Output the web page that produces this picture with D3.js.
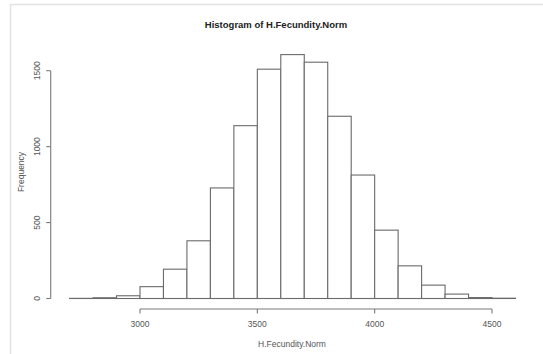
<!DOCTYPE html>
<html>
<head>
<meta charset="utf-8">
<script src="https://cdn.jsdelivr.net/npm/d3@7"></script>
<style>
	body { margin: 0; background: #fff; }
	svg { display: block; font-family: 'Liberation Sans', Arial, sans-serif; }
</style>
</head>
<body>
<div id="chart"></div>
<script>
// Histogram of H.Fecundity.Norm, R base-graphics look

const binStarts = [2700, 2800, 2900, 3000, 3100, 3200, 3300, 3400, 3500, 3600,
	3700, 3800, 3900, 4000, 4100, 4200, 4300, 4400, 4500];
const binWidth = 100;
const counts = [1, 5, 18, 78, 193, 380, 728, 1138, 1510, 1606,
	1556, 1200, 813, 450, 215, 88, 29, 6, 2];
const xTicks = [3000, 3500, 4000, 4500];
const yTicks = [0, 500, 1000, 1500];

(function() {
	'use strict';

	const width = 543;
	const height = 354;

	const svg = d3.select('#chart').append('svg')
		.attr('width', width)
		.attr('height', height);

	// screenshot frame (light border top/left)
	svg.append('line')
		.attr('x1', 10).attr('x2', width)
		.attr('y1', 4.5).attr('y2', 4.5)
		.attr('stroke', '#e2e2e2').attr('stroke-width', 1.5);
	svg.append('line')
		.attr('x1', 10.5).attr('x2', 10.5)
		.attr('y1', 4).attr('y2', height)
		.attr('stroke', '#e2e2e2').attr('stroke-width', 1.5);

	const x = d3.scaleLinear().domain([3000, 4500]).range([140, 492]);
	const y = d3.scaleLinear().domain([0, 1500]).range([298.5, 70.7]);

	const bins = binStarts.map((s, i) => ({ x0: s, x1: s + binWidth, n: counts[i] }));

	// bars
	svg.append('g')
		.selectAll('rect')
		.data(bins)
		.enter()
		.append('rect')
		.attr('x', d => x(d.x0))
		.attr('y', d => y(d.n))
		.attr('width', d => x(d.x1) - x(d.x0))
		.attr('height', d => y(0) - y(d.n))
		.attr('fill', '#fff')
		.attr('stroke', '#6a6a6a')
		.attr('stroke-width', 1.1);

	const axisColor = '#7a7a7a';
	const textColor = '#555';

	// x axis (R style: line spans first..last tick)
	const xAxisY = 309;
	const xg = svg.append('g');
	xg.append('line')
		.attr('x1', x(xTicks[0])).attr('x2', x(xTicks[xTicks.length - 1]))
		.attr('y1', xAxisY).attr('y2', xAxisY)
		.attr('stroke', axisColor).attr('stroke-width', 1.1);
	xg.selectAll('.xt')
		.data(xTicks)
		.enter()
		.append('line')
		.attr('x1', d => x(d)).attr('x2', d => x(d))
		.attr('y1', xAxisY).attr('y2', xAxisY + 4.5)
		.attr('stroke', axisColor).attr('stroke-width', 1.1);
	xg.selectAll('.xl')
		.data(xTicks)
		.enter()
		.append('text')
		.attr('x', d => x(d))
		.attr('y', 327)
		.attr('text-anchor', 'middle')
		.style('font-size', '8.5px')
		.style('fill', textColor)
		.text(d => d);

	// y axis
	const yAxisX = 50.7;
	const yg = svg.append('g');
	yg.append('line')
		.attr('x1', yAxisX).attr('x2', yAxisX)
		.attr('y1', y(yTicks[0])).attr('y2', y(yTicks[yTicks.length - 1]))
		.attr('stroke', axisColor).attr('stroke-width', 1.1);
	yg.selectAll('.yt')
		.data(yTicks)
		.enter()
		.append('line')
		.attr('x1', yAxisX - 4.5).attr('x2', yAxisX)
		.attr('y1', d => y(d)).attr('y2', d => y(d))
		.attr('stroke', axisColor).attr('stroke-width', 1.1);
	yg.selectAll('.yl')
		.data(yTicks)
		.enter()
		.append('text')
		.attr('transform', d => `translate(40, ${y(d)}) rotate(-90)`)
		.attr('text-anchor', 'middle')
		.style('font-size', '8.5px')
		.style('fill', textColor)
		.text(d => d);

	// titles
	svg.append('text')
		.attr('x', 276)
		.attr('y', 28)
		.attr('text-anchor', 'middle')
		.style('font-size', '9.5px')
		.style('font-weight', '700')
		.style('fill', '#222')
		.text('Histogram of H.Fecundity.Norm');

	svg.append('text')
		.attr('x', 292)
		.attr('y', 347)
		.attr('text-anchor', 'middle')
		.style('font-size', '8.5px')
		.style('fill', textColor)
		.text('H.Fecundity.Norm');

	svg.append('text')
		.attr('transform', 'translate(24, 172) rotate(-90)')
		.attr('text-anchor', 'middle')
		.style('font-size', '8.5px')
		.style('fill', textColor)
		.text('Frequency');
})();
</script>
</body>
</html>
